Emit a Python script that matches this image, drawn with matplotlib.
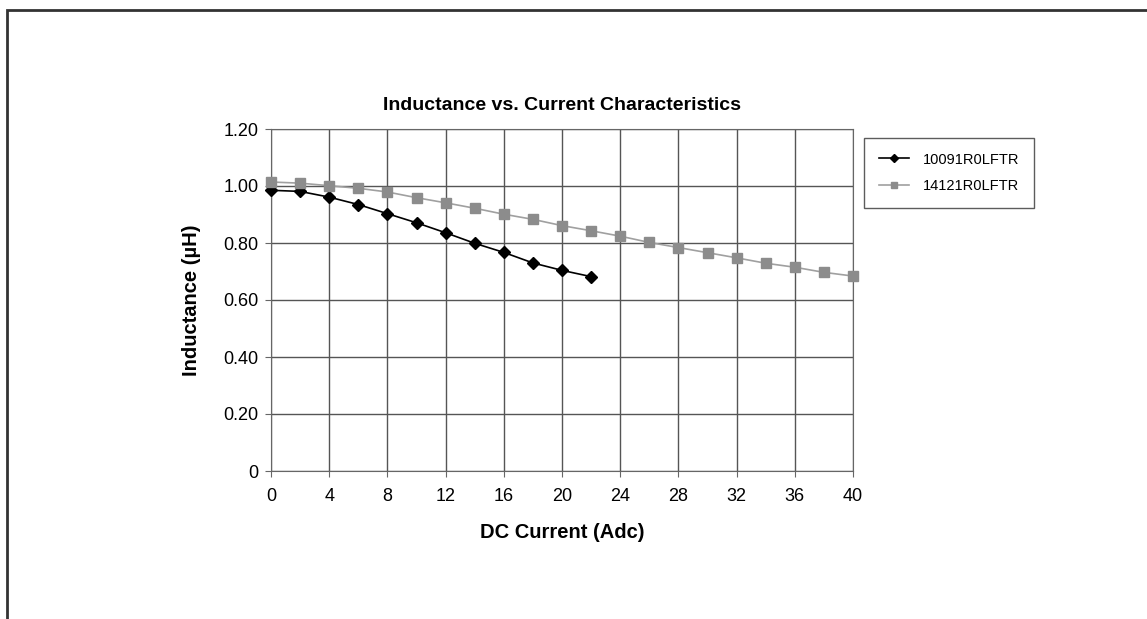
import matplotlib
matplotlib.use("Agg")
import matplotlib.pyplot as plt
from matplotlib.patches import Rectangle

plt.rcParams['font.family'] = ['Liberation Sans', 'DejaVu Sans']

cur_a = [0, 2, 4, 6, 8, 10, 12, 14, 16, 18, 20, 22]
ind_a = [0.985, 0.981, 0.961, 0.935, 0.903, 0.871, 0.836, 0.799, 0.767, 0.730, 0.704, 0.682]

cur_b = [0, 2, 4, 6, 8, 10, 12, 14, 16, 18, 20, 22, 24, 26, 28, 30, 32, 34, 36, 38, 40]
ind_b = [1.014, 1.010, 1.001, 0.992, 0.979, 0.959, 0.941, 0.922, 0.901, 0.883, 0.861,
         0.843, 0.824, 0.802, 0.784, 0.766, 0.748, 0.729, 0.715, 0.697, 0.684]

xticks = list(range(0, 41, 4))
yticks = [0, 0.2, 0.4, 0.6, 0.8, 1.0, 1.2]
ylabels = ['0', '0.20', '0.40', '0.60', '0.80', '1.00', '1.20']

fig = plt.figure(figsize=(11.47, 6.19), dpi=100)
fig.patches.append(Rectangle((7/1147, -0.1), 1.2, (619-10)/619 + 0.1, transform=fig.transFigure,
                             fill=False, edgecolor='#333333', lw=2))

ax = fig.add_axes([271/1147, 148/619, 582/1147, 342/619])
ax.plot(cur_a, ind_a, color='black', lw=1.2, marker='D', ms=6, mfc='black', mec='black',
        label='10091R0LFTR', zorder=3, clip_on=False)
ax.plot(cur_b, ind_b, color='#a0a0a0', lw=1.2, marker='s', ms=6.5, mfc='#8c8c8c', mec='#8c8c8c',
        label='14121R0LFTR', zorder=3, clip_on=False)

ax.set_xlim(0, 40)
ax.set_ylim(0, 1.2)
ax.set_xticks(xticks)
ax.set_yticks(yticks)
ax.set_yticklabels(ylabels)
ax.tick_params(labelsize=13, length=4, direction='out', color='#666666', pad=5)
ax.tick_params(axis='x', pad=8)
ax.grid(True, color='#555555', lw=1)
for sp in ax.spines.values():
    sp.set_color('#666666')

ax.set_title('Inductance vs. Current Characteristics', fontsize=14, fontweight='bold', pad=14)
ax.set_xlabel('DC Current (Adc)', fontsize=14.5, fontweight='bold', labelpad=13)
ax.set_ylabel('Inductance (µH)', fontsize=14.5, fontweight='bold', labelpad=16)

leg = ax.legend(loc='upper left', bbox_to_anchor=(864/1147, 1 - 138/619), bbox_transform=fig.transFigure,
                frameon=True, fancybox=False, edgecolor='#333333', fontsize=10.5, handlelength=2.1,
                borderpad=1.0, labelspacing=0.85, handletextpad=0.95, borderaxespad=0,
                markerscale=0.7)
leg.get_frame().set_linewidth(1)

plt.savefig('out.png', dpi=100)
